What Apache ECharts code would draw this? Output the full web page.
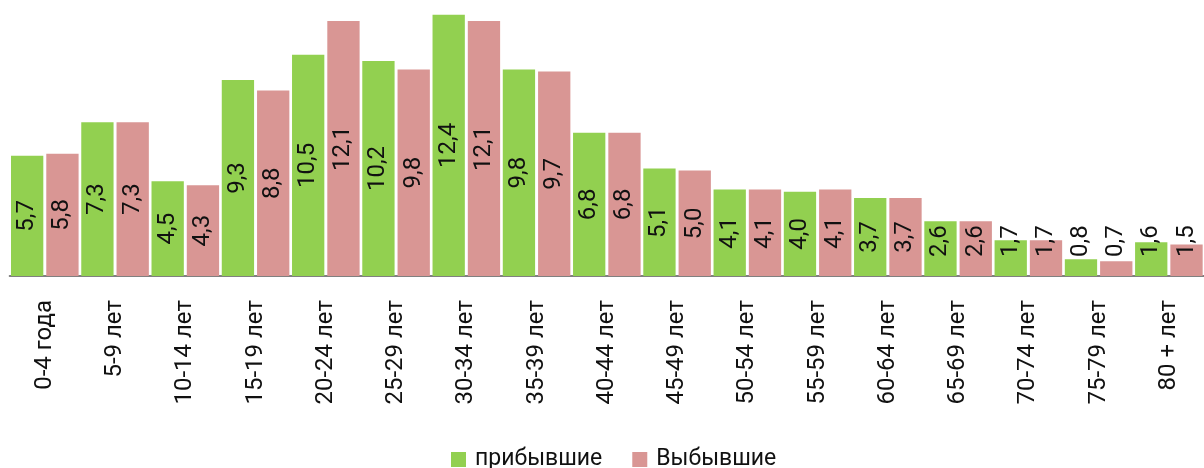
<!DOCTYPE html>
<html><head><meta charset="utf-8">
<script src="https://cdn.jsdelivr.net/npm/echarts@6/dist/echarts.min.js"></script>
<style>html,body{margin:0;padding:0;background:#fff}#c{width:1204px;height:468px}</style>
</head><body><div id="c"></div>
<script>
const categories = ['0-4 года','5-9 лет','10-14 лет','15-19 лет','20-24 лет','25-29 лет','30-34 лет','35-39 лет','40-44 лет','45-49 лет','50-54 лет','55-59 лет','60-64 лет','65-69 лет','70-74 лет','75-79 лет','80 + лет'];
const arrived = [5.7,7.3,4.5,9.3,10.5,10.2,12.4,9.8,6.8,5.1,4.1,4.0,3.7,2.6,1.7,0.8,1.6];
const departed = [5.8,7.3,4.3,8.8,12.1,9.8,12.1,9.7,6.8,5.0,4.1,4.1,3.7,2.6,1.7,0.7,1.5];
const seriesNames = ['прибывшие','Выбывшие'];
const colors = ['#92D050','#D99694'];
const FONT = 'Roboto';

function toData(arr){
  return arr.map(v => {
    if (v < 3) {
      return {value:v, label:{position:'insideBottom', distance:19, align:'left', verticalAlign:'middle'}};
    }
    return {value:v};
  });
}
function mkSeries(name, arr, color){
  return {
    name:name, type:'bar', data:toData(arr),
    barCategoryGap:'3.8%', barGap:'9.2%',
    itemStyle:{color:color},
    label:{show:true, position:'inside', rotate:90, color:'#111', fontFamily:FONT, fontSize:24,
      formatter:p => p.value.toFixed(1).replace('.',',')},
    emphasis:{disabled:true}
  };
}
const chart = echarts.init(document.getElementById('c'));
chart.setOption({
  animation:false,
  grid:{left:9.67, width:1201.4, top:2, bottom:192, containLabel:false},
  legend:{data:seriesNames, left:451, top:448, padding:0, itemWidth:15, itemHeight:15, itemGap:30, icon:'rect',
    textStyle:{fontFamily:FONT, fontSize:23, color:'#111', lineHeight:22, padding:[0,0,0,4]}},
  xAxis:{type:'category', data:categories,
    axisLine:{lineStyle:{color:'#808080', width:2}},
    axisTick:{show:false},
    axisLabel:{rotate:90, interval:0, margin:24, fontFamily:FONT, fontSize:24, color:'#111', padding:[7,0,0,0]}},
  yAxis:{type:'value', min:0, max:13, show:false, splitLine:{show:false}},
  series:[mkSeries(seriesNames[0], arrived, colors[0]), mkSeries(seriesNames[1], departed, colors[1])]
});
</script></body></html>
